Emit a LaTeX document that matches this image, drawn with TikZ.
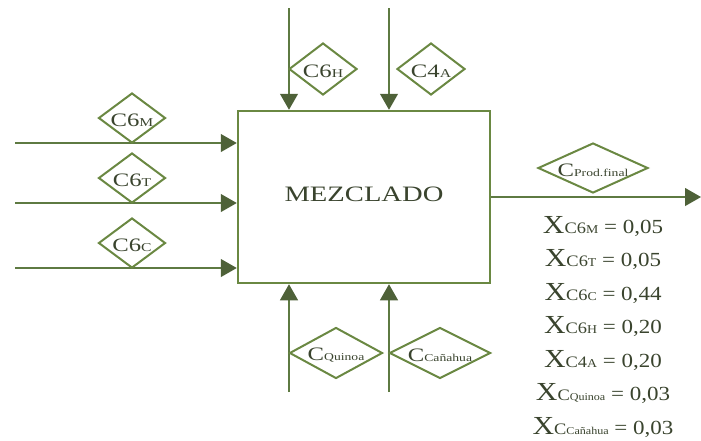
\documentclass[tikz,border=0pt]{standalone}
\usepackage{fontspec}
\setmainfont{Liberation Serif}[FakeStretch=1.3]
\newfontfamily\fracfont{Liberation Serif}[FakeStretch=1.15]
\usepackage{tikz}
\usetikzlibrary{shapes.geometric,arrows.meta,positioning}
\definecolor{OliveLine}{RGB}{94,122,66}
\definecolor{OliveTip}{RGB}{78,97,56}
\definecolor{OliveBox}{RGB}{106,136,66}
\definecolor{DarkText}{RGB}{58,68,46}
\newcommand{\sm}[1]{{\fontsize{12}{12}\selectfont #1}}
\newcommand{\tn}[1]{{\fontsize{10.5}{10.5}\selectfont #1}}

\begin{document}
\begin{tikzpicture}[x=1pt,y=-1pt,
    flow/.style={draw=OliveLine,line width=1.1pt,-{Triangle[length=16pt,width=18pt,color=OliveTip]}},
    stream/.style={shape=diamond,draw=OliveBox,line width=2pt,inner sep=0pt},
    tag/.style={text=DarkText,inner sep=0pt,yshift=-2pt,font=\fontsize{19}{19}\selectfont},
    frac/.style={text=DarkText,font=\fracfont\fontsize{20}{20}\selectfont,inner sep=0pt}]
        \useasboundingbox (0,0) rectangle (701,440);

        % the mixing unit
        \node[draw=OliveBox,line width=2.5pt,minimum width=252pt,minimum height=172pt] (mezclado) at (364,197) {};
        \node[text=DarkText,font=\fontsize{22}{22}\selectfont] (title) at (364,194) {MEZCLADO};

        % left feed streams
        \foreach \y/\s[count=\c] in {143/M, 203/T, 268/C}{
            \coordinate (in\c) at (15,\y);
            \draw[flow] (in\c) -- (in\c -| mezclado.west);
            \node[stream,minimum width=67pt,minimum height=50pt,label={[tag]center:C6\sm{\s}}] (cl\c) at (132,\y-25) {};
        }

        % top feed streams
        \coordinate (inH) at (289,8);
        \coordinate (inA) at (389,8);
        \draw[flow] (inH) -- (inH |- mezclado.north);
        \draw[flow] (inA) -- (inA |- mezclado.north);
        \node[stream,minimum width=68pt,minimum height=52pt,label={[tag]center:C6\sm{H}}] (clH) at (323,69) {};
        \node[stream,minimum width=68pt,minimum height=52pt,label={[tag]center:C4\sm{A}}] (clA) at (431,69) {};

        % bottom feed streams
        \coordinate (inQ) at (289,392);
        \coordinate (inK) at (389,392);
        \draw[flow] (inQ) -- (inQ |- mezclado.south);
        \draw[flow] (inK) -- (inK |- mezclado.south);
        \node[stream,minimum width=93pt,minimum height=51pt,label={[tag]center:C\tn{Quinoa}}] (clQ) at (336,353) {};
        \node[stream,minimum width=101pt,minimum height=51pt,label={[tag]center:C\tn{Cañahua}}] (clK) at (440,353) {};

        % product stream
        \coordinate (out) at (701,197);
        \draw[flow] (mezclado.east |- out) -- (out);
        \node[stream,minimum width=110pt,minimum height=50pt,label={[tag]center:C\tn{Prod.final}}] (clP) at (593,168) {};

        % mass fractions of the product
        \foreach \t/\v[count=\c] in {C6\sm{M}/0{,}05, C6\sm{T}/0{,}05, C6\sm{C}/0{,}44, C6\sm{H}/0{,}20, C4\sm{A}/0{,}20, C\tn{Quinoa}/0{,}03, C\tn{Cañahua}/0{,}03}{
            \node[frac] (x\c) at (603,193+33.5*\c) {{\fontsize{26}{26}\selectfont X}{\fontsize{16}{16}\selectfont \t} = \v};
        }
    \end{tikzpicture}
\end{document}
